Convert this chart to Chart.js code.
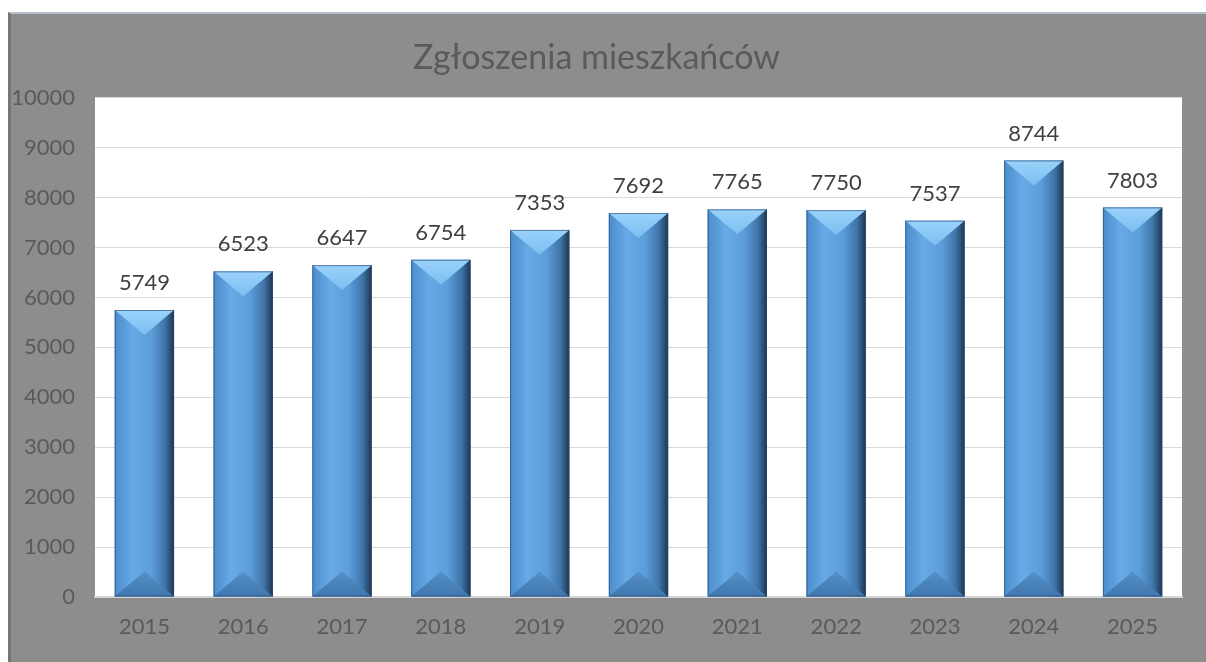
<!DOCTYPE html>
<html>
<head>
<meta charset="utf-8">
<script src="https://cdn.jsdelivr.net/npm/chart.js@4/dist/chart.umd.min.js"></script>
<style>
  html, body { margin: 0; padding: 0; background: #ffffff; }
  #frame {
    position: absolute; left: 8px; top: 12px; width: 1198px; height: 650px;
    background: #8d8d8d; box-sizing: border-box;
    border-top: 2px solid #b3bfcc; border-left: 3px solid #767676;
  }
  #chart { display: block; }
</style>
</head>
<body>
<div id="frame"><canvas id="chart"></canvas></div>
<script>
// lata i liczba zgłoszeń
const years = ['2015', '2016', '2017', '2018', '2019', '2020', '2021', '2022', '2023', '2024', '2025'];
const reports = [5749, 6523, 6647, 6754, 7353, 7692, 7765, 7750, 7537, 8744, 7803];
const yTicks = [0, 1000, 2000, 3000, 4000, 5000, 6000, 7000, 8000, 9000, 10000];

const FONT = 'Lato, "Open Sans", sans-serif';

// białe tło obszaru wykresu
const plotBackground = {
    id: 'plotBackground',
    beforeDraw(chart) {
        const { ctx, chartArea: a } = chart;
        ctx.save();
        ctx.fillStyle = '#ffffff';
        ctx.fillRect(a.left, a.top, a.right - a.left, a.bottom - a.top);
        ctx.restore();
    }
};

// efekt fazowania słupków + etykiety wartości
const bevelBars = {
    id: 'bevelBars',
    afterDatasetsDraw(chart) {
        const ctx = chart.ctx;
        const meta = chart.getDatasetMeta(0);
        meta.data.forEach((bar, i) => {
            const { x, y, base, width } = bar.getProps(['x', 'y', 'base', 'width'], true);
            const l = x - width / 2, r = x + width / 2;
            const h = base - y;
            const d = Math.min(width * 0.42, h / 2);
            ctx.save();
            // poziomy gradient korpusu
            const g = ctx.createLinearGradient(l, 0, r, 0);
            g.addColorStop(0, '#4d8ccb');
            g.addColorStop(0.3, '#66aae6');
            g.addColorStop(0.62, '#5c9dda');
            g.addColorStop(0.85, '#3f74a8');
            g.addColorStop(1, '#1d3550');
            ctx.fillStyle = g;
            ctx.fillRect(l, y, width, h);
            // górny trójkąt (jasny)
            const gt = ctx.createLinearGradient(0, y, 0, y + d);
            gt.addColorStop(0, '#9ad3fb');
            gt.addColorStop(1, '#7cbdf0');
            ctx.fillStyle = gt;
            ctx.beginPath();
            ctx.moveTo(l, y);
            ctx.lineTo(r, y);
            ctx.lineTo(x, y + d);
            ctx.closePath();
            ctx.fill();
            // dolny trójkąt (ciemniejszy)
            const gb = ctx.createLinearGradient(0, base - d, 0, base);
            gb.addColorStop(0, '#5590c8');
            gb.addColorStop(1, '#3f76ad');
            ctx.fillStyle = gb;
            ctx.beginPath();
            ctx.moveTo(l, base);
            ctx.lineTo(r, base);
            ctx.lineTo(x, base - d);
            ctx.closePath();
            ctx.fill();
            // obrys
            ctx.strokeStyle = 'rgba(40,70,110,0.6)';
            ctx.lineWidth = 1;
            ctx.strokeRect(l + 0.5, y + 0.5, width - 1, h - 1);
            // etykieta wartości
            ctx.fillStyle = '#404040';
            ctx.font = '22px ' + FONT;
            ctx.textAlign = 'center';
            ctx.textBaseline = 'bottom';
            ctx.fillText(String(reports[i]), x, y - 16);
            ctx.restore();
        });
    }
};

new Chart(document.getElementById('chart'), {
    type: 'bar',
    data: {
        labels: years,
        datasets: [{
            data: reports,
            backgroundColor: '#5b9bd5',
            barPercentage: 0.6,
            categoryPercentage: 1
        }]
    },
    options: {
        responsive: true,
        maintainAspectRatio: false,
        animation: false,
        events: [],
        layout: { padding: { left: 0, right: 24, top: 0, bottom: 0 } },
        plugins: {
            legend: { display: false },
            tooltip: { enabled: false },
            title: {
                display: true,
                text: 'Zgłoszenia mieszkańców',
                color: '#5a5a5a',
                font: { family: FONT, size: 34, weight: 'normal' },
                padding: { top: 24, bottom: 19 }
            }
        },
        scales: {
            x: {
                grid: { display: false, drawTicks: false },
                border: { color: '#d4d4d4', width: 2 },
                ticks: { color: '#5a5a5a', font: { family: FONT, size: 22 }, padding: 17 },
                afterFit(scale) { scale.height = 65; }
            },
            y: {
                min: 0,
                max: 10000,
                afterBuildTicks(scale) { scale.ticks = yTicks.map(v => ({ value: v })); },
                grid: { color: '#d9d9d9', drawTicks: false },
                border: { display: false },
                ticks: {
                    color: '#5a5a5a',
                    font: { family: FONT, size: 22 },
                    padding: 20,
                    callback: v => String(v)
                },
                afterFit(scale) { scale.width = 84; }
            }
        }
    },
    plugins: [plotBackground, bevelBars]
});
</script>
</body>
</html>
